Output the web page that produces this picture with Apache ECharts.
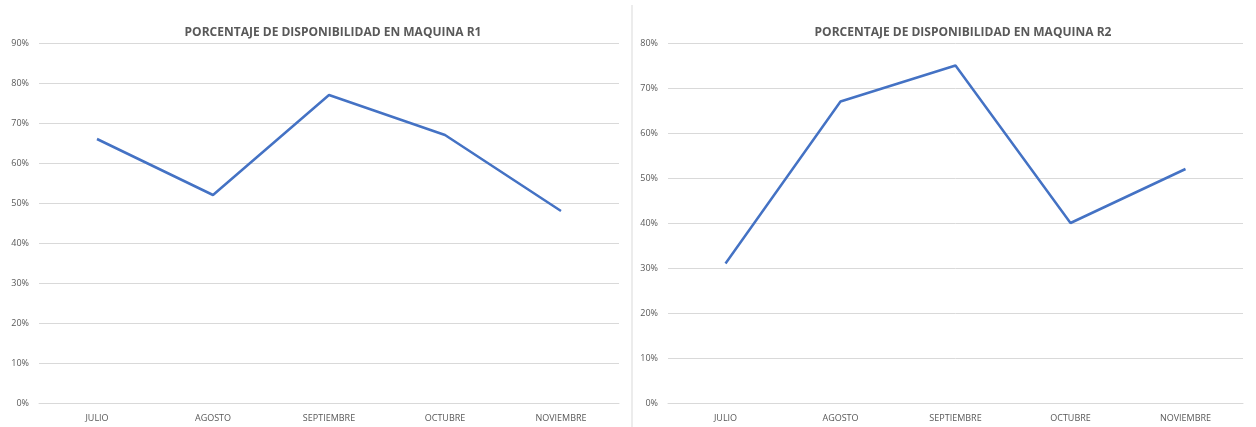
<!DOCTYPE html>
<html>
<head>
<meta charset="utf-8">
<script src="https://cdn.jsdelivr.net/npm/echarts@6/dist/echarts.min.js"></script>
<style>
  html, body { margin: 0; padding: 0; background: #fff; }
  #main { width: 1256px; height: 427px; }
</style>
</head>
<body>
<div id="main"></div>
<script>
var months = ["JULIO", "AGOSTO", "SEPTIEMBRE", "OCTUBRE", "NOVIEMBRE"];
var r1Values = [66, 52, 77, 67, 48];
var r2Values = [31, 67, 75, 40, 52];
var r1Title = "PORCENTAJE DE DISPONIBILIDAD EN MAQUINA R1";
var r2Title = "PORCENTAJE DE DISPONIBILIDAD EN MAQUINA R2";

var textColor = "#595959";
var lineColor = "#4472C4";
var fontName = "'Open Sans', 'Liberation Sans', sans-serif";

function xAxisFor(idx) {
  return {
    type: "category",
    gridIndex: idx,
    data: months,
    boundaryGap: true,
    axisLine: { show: true, lineStyle: { color: "#d9d9d9" } },
    axisTick: { show: false },
    axisLabel: { color: textColor, fontSize: 9, fontFamily: fontName, margin: 11 }
  };
}

function yAxisFor(idx, max) {
  return {
    type: "value",
    gridIndex: idx,
    min: 0,
    max: max,
    interval: 10,
    axisLine: { show: false },
    axisTick: { show: false },
    splitLine: { lineStyle: { color: "#d9d9d9", width: 1 } },
    axisLabel: { color: textColor, fontSize: 9, fontFamily: fontName, margin: 10, formatter: "{value}%" }
  };
}

var myChart = echarts.init(document.getElementById("main"));
var option = {
  backgroundColor: "#fff",
  animation: false,
  title: [
    {
      text: r1Title, left: 328, top: 22, textAlign: "center",
      textStyle: { color: textColor, fontSize: 12, fontWeight: "bold", fontFamily: fontName }
    },
    {
      text: r2Title, left: 958, top: 22, textAlign: "center",
      textStyle: { color: textColor, fontSize: 12, fontWeight: "bold", fontFamily: fontName }
    }
  ],
  grid: [
    { left: 39, right: 637, top: 43, bottom: 24 },
    { left: 668, right: 13, top: 43, bottom: 24 }
  ],
  xAxis: [xAxisFor(0), xAxisFor(1)],
  yAxis: [yAxisFor(0, 90), yAxisFor(1, 80)],
  graphic: [
    {
      type: "line",
      shape: { x1: 632, y1: 5, x2: 632, y2: 427 },
      style: { stroke: "#d9d9d9", lineWidth: 1 }
    }
  ],
  series: [
    {
      type: "line", xAxisIndex: 0, yAxisIndex: 0, data: r1Values,
      symbol: "none", lineStyle: { color: lineColor, width: 2.5 }
    },
    {
      type: "line", xAxisIndex: 1, yAxisIndex: 1, data: r2Values,
      symbol: "none", lineStyle: { color: lineColor, width: 2.5 }
    }
  ]
};
myChart.setOption(option);
</script>
</body>
</html>
